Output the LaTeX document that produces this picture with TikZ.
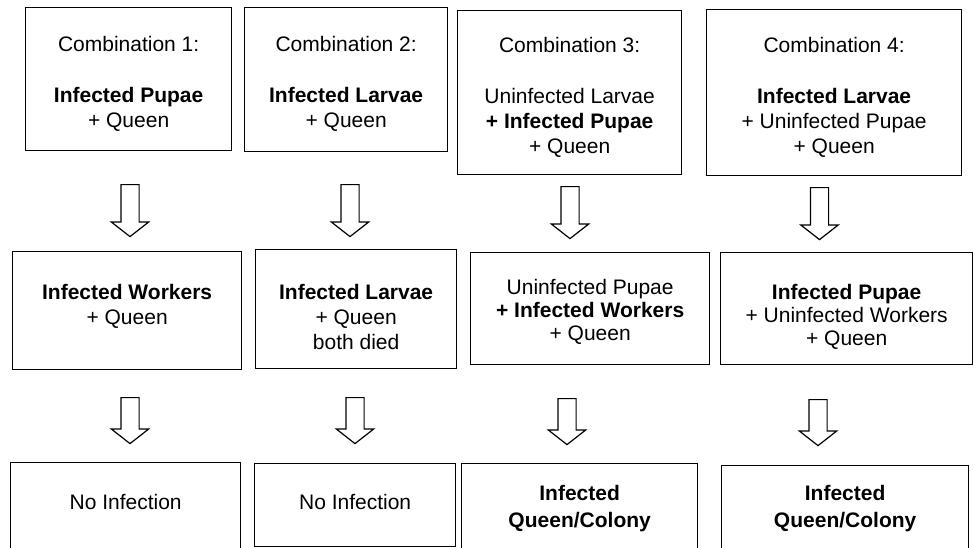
\documentclass[tikz,border=0pt]{standalone}
\usepackage{fontspec}
\setmainfont{Liberation Sans}
\usetikzlibrary{positioning, shapes.arrows}

\begin{document}
\begin{tikzpicture}[x=1pt, y=-1pt,
  box/.style = {draw, line width=1.3pt, inner sep=0pt, anchor=north west},
  txt/.style = {align=center, inner sep=0pt, font=\fontsize{21pt}{25pt}\selectfont},
  blockarrow/.style = {draw, single arrow, shape border rotate=270, anchor=tail,
    line width=1.2pt, inner xsep=8.5pt, inner ysep=0pt, minimum width=36pt,
    single arrow head extend=9.5pt, single arrow tip angle=104, minimum height=#1},
  blockarrow/.default = 52pt]
\useasboundingbox (0,0) rectangle (973,547);
\clip (0,0) rectangle (973,547);

% combinations
\node[box, minimum width=206pt, minimum height=143pt] (t1) at (25,7) {};
\node[box, minimum width=203pt, minimum height=144pt] (t2) at (244,7) {};
\node[box, minimum width=224pt, minimum height=164pt] (t3) at (457,10) {};
\node[box, minimum width=255pt, minimum height=166pt] (t4) at (706,9) {};
\node[txt, below=29pt of t1.north] (t1l) {Combination 1:\\[26pt]\textbf{Infected Pupae}\\+ Queen};
\node[txt, below=29pt of t2.north] (t2l) {Combination 2:\\[26pt]\textbf{Infected Larvae}\\+ Queen};
\node[txt, below=27pt of t3.north] (t3l) {Combination 3:\\[26pt]Uninfected Larvae\\\textbf{+ Infected Pupae}\\+ Queen};
\node[txt, below=28pt of t4.north] (t4l) {Combination 4:\\[26pt]\textbf{Infected Larvae}\\+ Uninfected Pupae\\+ Queen};

\node[blockarrow] (a11) at (130,184) {};
\node[blockarrow] (a12) at (350,184) {};
\node[blockarrow] (a13) at (570,186) {};
\node[blockarrow] (a14) at (819.5,187) {};

% what the workers become
\node[box, minimum width=229pt, minimum height=118pt] (m1) at (12,251) {};
\node[box, minimum width=201pt, minimum height=119pt] (m2) at (255,249) {};
\node[box, minimum width=239pt, minimum height=112pt] (m3) at (470,252) {};
\node[box, minimum width=252pt, minimum height=112pt] (m4) at (720,252) {};
\node[txt, below=33pt of m1.north] (m1l) {\textbf{Infected Workers}\\+ Queen};
\node[txt, below=35pt of m2.north] (m2l) {\textbf{Infected Larvae}\\+ Queen\\both died};
\node[txt, below=27pt of m3.north] (m3l) {Uninfected Pupae\\[-2pt]\textbf{+ Infected Workers}\\[-2pt]+ Queen};
\node[txt, below=32pt of m4.north] (m4l) {\textbf{Infected Pupae}\\[-2pt]+ Uninfected Workers\\[-2pt]+ Queen};

\node[blockarrow=46pt] (a21) at (130,397) {};
\node[blockarrow=46pt] (a22) at (355,397) {};
\node[blockarrow=46pt] (a23) at (567,398) {};
\node[blockarrow=46pt] (a24) at (818,399) {};

% outcome
\node[box, minimum width=230pt, minimum height=94pt] (b1) at (10,462) {};
\node[box, minimum width=201pt, minimum height=83pt] (b2) at (254,463) {};
\node[box, minimum width=236pt, minimum height=90pt] (b3) at (461,463) {};
\node[box, minimum width=247pt, minimum height=90pt] (b4) at (721,465) {};
\node[txt, below=32pt of b1.north] (b1l) {No Infection};
\node[txt, below=31pt of b2.north] (b2l) {No Infection};
\node[txt, below=22pt of b3.north] (b3l) {\textbf{Infected}\\[2pt]\textbf{Queen/Colony}};
\node[txt, below=20pt of b4.north] (b4l) {\textbf{Infected}\\[2pt]\textbf{Queen/Colony}};
\end{tikzpicture}
\end{document}
